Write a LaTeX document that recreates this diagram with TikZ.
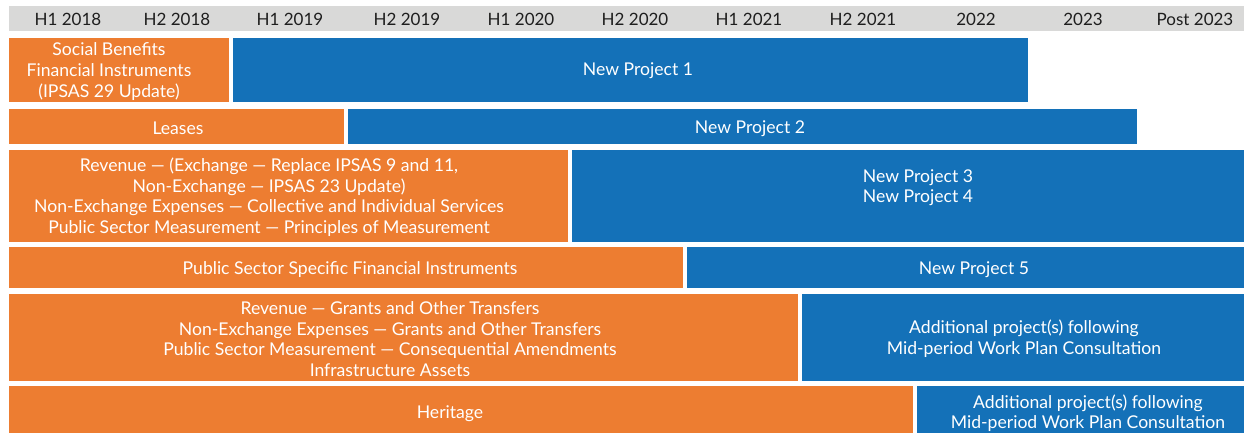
\documentclass[tikz,border=0pt]{standalone}
\usepackage{fontspec}
\setmainfont{Lato}
\definecolor{IOrange}{HTML}{ED7D31}
\definecolor{IBlue}{HTML}{1471B8}
\definecolor{IGray}{HTML}{D9D9D8}
\definecolor{IText}{HTML}{1E1E1E}
\tikzset{
  orangebar/.style={fill=IOrange},
  bluebar/.style={fill=IBlue},
  lbl/.style={text=white, align=center, inner sep=0pt, font=\fontsize{17.6}{20.6}\selectfont},
  hdr/.style={text=IText, inner sep=0pt, font=\fontsize{17}{19}\selectfont},
}
\begin{document}
\begin{tikzpicture}[x=1pt,y=-1pt]
\clip (0,0) rectangle (1244,432);
\fill[white] (0,0) rectangle (1244,432);
% header
\fill[IGray] (9,6) rectangle (1244,31);
\node[hdr] (h1) at (68,19) {H1 2018};
\node[hdr] (h2) at (177,19) {H2 2018};
\node[hdr] (h3) at (290,19) {H1 2019};
\node[hdr] (h4) at (407,19) {H2 2019};
\node[hdr] (h5) at (521,19) {H1 2020};
\node[hdr] (h6) at (635,19) {H2 2020};
\node[hdr] (h7) at (749,19) {H1 2021};
\node[hdr] (h8) at (863,19) {H2 2021};
\node[hdr] (h9) at (976,19) {2022};
\node[hdr] (h10) at (1083,19) {2023};
\node[hdr] (h11) at (1195,19) {Post 2023};
% row 1
\fill[orangebar] (9,38) rectangle (229,102);
\fill[bluebar] (233,38) rectangle (1028,102);
\node[lbl] (sb) at (109,71.5) {Social Benefits\\Financial Instruments\\(IPSAS 29 Update)};
\node[lbl] (np1) at (638,71) {New Project 1};
% row 2
\fill[orangebar] (9,109) rectangle (344,144);
\fill[bluebar] (348,109) rectangle (1137,144);
\node[lbl] (le) at (178,128.5) {Leases};
\node[lbl] (np2) at (750,128.5) {New Project 2};
% row 3
\fill[orangebar] (9,150) rectangle (568,242);
\fill[bluebar] (572,150) rectangle (1250,242);
\node[lbl] (rev) at (269,197) {Revenue — (Exchange — Replace IPSAS 9 and 11,\\Non-Exchange — IPSAS 23 Update)\\Non-Exchange Expenses — Collective and Individual Services\\Public Sector Measurement — Principles of Measurement};
\node[lbl] (np34) at (918,187.5) {New Project 3\\New Project 4};
% row 4
\fill[orangebar] (9,247) rectangle (683,288);
\fill[bluebar] (687,247) rectangle (1250,288);
\node[lbl] (pss) at (350,269.5) {Public Sector Specific Financial Instruments};
\node[lbl] (np5) at (974,269.5) {New Project 5};
% row 5
\fill[orangebar] (9,294) rectangle (798,381);
\fill[bluebar] (802,294) rectangle (1250,381);
\node[lbl] (grt) at (390,339) {Revenue — Grants and Other Transfers\\Non-Exchange Expenses — Grants and Other Transfers\\Public Sector Measurement — Consequential Amendments\\Infrastructure Assets};
\node[lbl] (add1) at (1024,338.5) {Additional project(s) following\\Mid-period Work Plan Consultation};
% row 6
\fill[orangebar] (9,386) rectangle (913,440);
\fill[bluebar] (917,386) rectangle (1250,440);
\node[lbl] (her) at (450,413.5) {Heritage};
\node[lbl] (add2) at (1088,413) {Additional project(s) following\\Mid-period Work Plan Consultation};
\end{tikzpicture}
\end{document}
